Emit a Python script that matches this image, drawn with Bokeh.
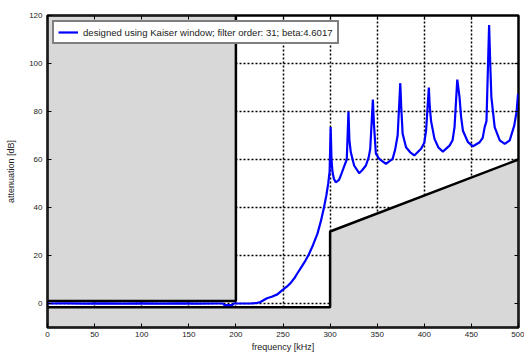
from bokeh.plotting import figure
from bokeh.models import LinearAxis, Range1d, FixedTicker, Legend, LegendItem
from bokeh.embed import file_html
from bokeh.resources import INLINE

# Filter response (attenuation in dB)
freq_khz = [0, 20, 40, 60, 80, 100, 120, 140, 160, 180, 186, 188, 196, 198, 205, 215,
            222, 226, 233, 238, 244, 249, 254, 258, 262, 265, 270, 274, 277.5, 282,
            286.5, 290, 293.5, 296, 298, 299.5, 300.6, 301.5, 302.5, 304, 306, 309.5,
            312, 314.8, 317.7, 319.5, 320.5, 322, 325.5, 330.8, 334, 338, 341, 342.6,
            345.4, 346.5, 348.6, 352.1, 359.3, 366.4, 369, 371.7, 374.5, 375.5, 377,
            380.6, 385, 389.4, 396.6, 400, 401.9, 404.8, 405.8, 407.2, 410.8, 415,
            419.7, 426.8, 430, 432.1, 435, 437.4, 439, 441, 446.4, 451.7, 458.8, 462,
            464.1, 466, 468.8, 470, 471.2, 474.7, 480.1, 485.4, 490.7, 495.4, 498, 499.5]
atten_db = [0, 0.05, -0.05, 0.05, -0.05, 0.05, -0.05, 0.05, -0.05, 0.0, 0.0, -0.7, -0.7, 0.0, 0.0, 0.0,
            0.2, 0.6, 2.2, 2.8, 3.8, 5.5, 7.0, 8.5, 10.5, 12.4, 15.5, 18.0, 20.5, 24.5,
            29.0, 34.0, 40.0, 45.0, 50.0, 55.0, 73.5, 60.0, 55.0, 52.0, 50.5, 51.5,
            54.0, 57.0, 60.0, 80.0, 68.0, 63.0, 57.5, 54.3, 55.5, 57.5, 61.0, 64.4,
            85.0, 75.0, 62.4, 60.3, 58.2, 60.3, 64.0, 70.0, 91.8, 82.0, 70.7,
            65.1, 63.0, 61.7, 64.5, 67.0, 72.0, 90.0, 82.0, 76.0, 68.6, 65.0,
            63.3, 65.8, 68.0, 73.5, 93.3, 86.0, 78.0, 72.0, 67.2, 65.5, 67.2, 69.0,
            73.5, 76.0, 116.0, 100.0, 86.0, 73.5, 68.0, 66.5, 68.0, 74.0, 80.0, 87.4]

# Tolerance masks (forbidden regions)
pass_mask_x = [0, 200, 200, 0]
pass_mask_y = [1, 1, 120, 120]
stop_mask_x = [0, 300, 300, 500, 500, 0]
stop_mask_y = [-1.6, -1.6, 30, 60, -10, -10]

x_ticks = [0, 50, 100, 150, 200, 250, 300, 350, 400, 450, 500]
y_ticks = [0, 20, 40, 60, 80, 100, 120]

FONT = "Liberation Sans"

p = figure(width=524, height=354, x_range=Range1d(0, 500), y_range=Range1d(-10, 120),
           output_backend="svg", toolbar_location=None,
           min_border_left=47, min_border_top=15, min_border_right=6, min_border_bottom=26)

p.outline_line_color = "black"
p.outline_line_width = 2.5
p.background_fill_color = "white"
p.border_fill_color = "white"

for ax in p.xaxis + p.yaxis:
    ax.axis_line_color = None
    ax.major_tick_in = 4
    ax.major_tick_out = 0
    ax.minor_tick_line_color = None
    ax.major_tick_line_color = "black"
    ax.major_label_text_font = FONT
    ax.major_label_text_font_size = "8px"
    ax.major_label_text_color = "#222222"
    ax.axis_label_text_font = FONT
    ax.axis_label_text_font_size = "9px"
    ax.axis_label_text_font_style = "normal"
    ax.axis_label_text_color = "#222222"

p.xaxis.ticker = FixedTicker(ticks=x_ticks)
p.yaxis.ticker = FixedTicker(ticks=y_ticks)
p.xaxis.axis_label = "frequency [kHz]"
p.yaxis.axis_label = "attenuation [dB]"
p.xaxis.major_label_standoff = 4
p.yaxis.major_label_standoff = 5
p.xaxis.axis_label_standoff = 2
p.yaxis.axis_label_standoff = 10

for loc, tk in (("right", y_ticks), ("above", x_ticks)):
    ax = LinearAxis(ticker=FixedTicker(ticks=tk),
                    major_label_overrides={t: "" for t in tk},
                    major_label_text_font_size="8px",
                    major_label_standoff=0, major_tick_in=4, major_tick_out=0,
                    minor_tick_line_color=None, axis_line_color=None)
    p.add_layout(ax, loc)

p.xgrid.ticker = FixedTicker(ticks=x_ticks)
p.ygrid.ticker = FixedTicker(ticks=y_ticks)
for g in (p.xgrid, p.ygrid):
    g.grid_line_color = "black"
    g.grid_line_dash = "2 2"
    g.grid_line_width = 1.5

p.patch(pass_mask_x, pass_mask_y, fill_color="#d8d8d8", line_color="black", line_width=2.5)
p.patch(stop_mask_x, stop_mask_y, fill_color="#d8d8d8", line_color="black", line_width=2.5)

line = p.line(freq_khz, atten_db, line_color="#0000ff", line_width=2.2)

legend = Legend(items=[LegendItem(label="designed using Kaiser window; filter order: 31; beta:4.6017",
                                  renderers=[line])],
                location="top_left")
legend.border_line_color = "black"
legend.border_line_width = 2.5
legend.background_fill_color = "white"
legend.background_fill_alpha = 1
legend.label_text_font = FONT
legend.label_text_font_size = "9.6px"
legend.label_text_color = "#222222"
legend.glyph_width = 20
legend.glyph_height = 10
legend.label_height = 12
legend.padding = 4
legend.margin = 5
legend.spacing = 0
legend.label_standoff = 5
p.add_layout(legend)

open("out.html", "w").write(file_html(p, INLINE))
